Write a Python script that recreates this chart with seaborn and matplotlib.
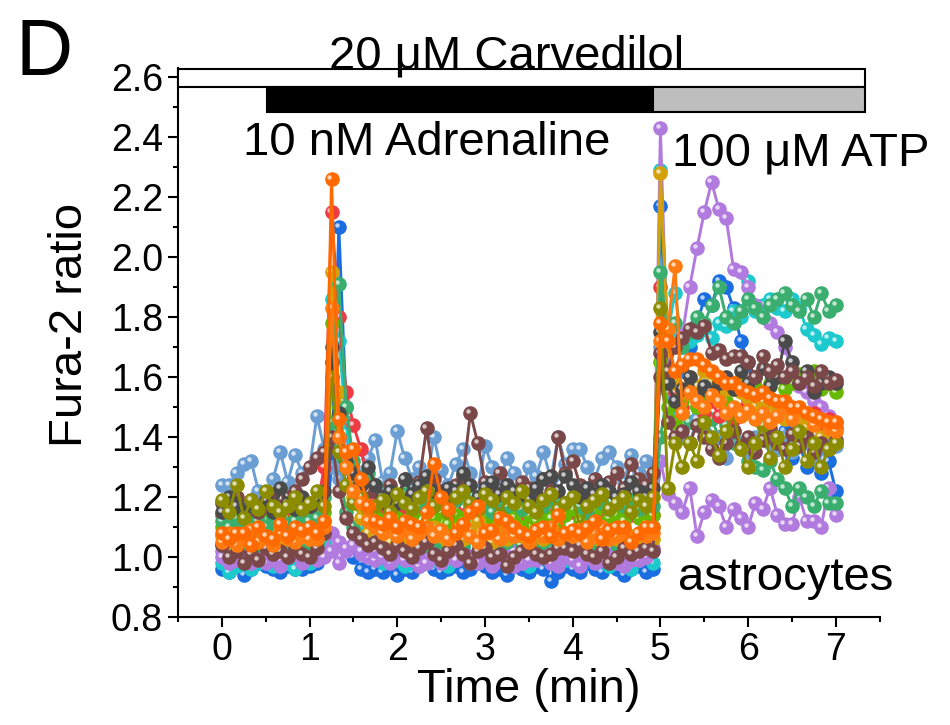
import numpy as np
import pandas as pd
import seaborn as sns
import matplotlib.pyplot as plt
from matplotlib.patches import Rectangle
from matplotlib.ticker import MultipleLocator
from matplotlib.transforms import offset_copy

# one frame every 5 s, 0 - 7 min
time_min = np.arange(85) / 12

# Fura-2 ratio per cell (rows: baseline | adrenaline | wash | ATP)
light_blue = [1.24, 1.24, 1.28, 1.31, 1.32, 1.22, 1.20, 1.26, 1.35, 1.25, 1.34, 1.28, 1.30,
              1.47, 1.36, 1.30, 1.26, 1.24, 1.30, 1.27, 1.33,
              1.39, 1.25, 1.28, 1.42, 1.33, 1.26, 1.30, 1.25, 1.40, 1.29, 1.24, 1.31, 1.36,
              1.28, 1.22, 1.37, 1.30, 1.25, 1.33, 1.28, 1.22, 1.30, 1.27, 1.35, 1.26, 1.40,
              1.31, 1.36, 1.36, 1.30, 1.26, 1.33, 1.35, 1.30, 1.25, 1.34, 1.28, 1.32, 1.27,
              1.70, 1.55, 1.45, 1.40, 1.38, 1.46, 1.42, 1.36, 1.40, 1.33, 1.42, 1.38, 1.35,
              1.40, 1.44, 1.38, 1.36, 1.40, 1.35, 1.42, 1.38, 1.33, 1.36, 1.40, 1.37]
blue = [0.96, 0.95, 0.97, 0.94, 0.96, 0.98, 0.97, 0.96, 0.95, 0.97, 0.96, 0.96, 0.97,
        0.98, 1.05, 1.30, 2.10, 1.50, 1.00, 0.96, 0.95,
        0.96, 0.95, 0.97, 0.94, 0.96, 0.95, 0.97, 0.98, 0.96, 0.95, 0.96, 0.97, 0.95,
        0.96, 0.98, 0.97, 0.95, 0.96, 0.94, 0.97, 0.96, 0.95, 0.97, 0.96, 0.92, 0.95,
        0.97, 0.96, 0.95, 0.98, 0.96, 0.95, 0.97, 0.96, 0.94, 0.96, 0.97, 0.95, 0.96,
        2.17, 1.60, 1.55, 1.62, 1.70, 1.78, 1.86, 1.84, 1.92, 1.90, 1.83, 1.72, 1.65,
        1.52, 1.45, 1.40, 1.36, 1.42, 1.33, 1.38, 1.30, 1.35, 1.28, 1.32, 1.22]
orange_a = [1.08, 1.06, 1.08, 1.08, 1.04, 1.10, 1.07, 1.06, 1.11, 1.07, 1.10, 1.09, 1.10,
            1.08, 1.12, 2.26, 1.46, 1.35, 1.36, 1.26, 1.17,
            1.12, 1.11, 1.13, 1.10, 1.12, 1.11, 1.10, 1.15, 1.31, 1.20, 1.16, 1.08, 1.11,
            1.15, 1.17, 1.08, 1.09, 1.13, 1.12, 1.10, 1.08, 1.07, 1.09, 1.10, 1.07, 1.14,
            1.08, 1.09, 1.08, 1.10, 1.12, 1.06, 1.09, 1.10, 1.10, 1.05, 1.08, 1.10, 1.10,
            1.78, 1.72, 1.62, 1.64, 1.66, 1.66, 1.64, 1.62, 1.60, 1.58, 1.58, 1.56, 1.55,
            1.54, 1.55, 1.53, 1.52, 1.52, 1.50, 1.50, 1.48, 1.47, 1.46, 1.45, 1.45]
orange_b = [1.05, 1.08, 1.04, 1.06, 1.09, 1.05, 1.07, 1.04, 1.08, 1.06, 1.05, 1.07, 1.06,
            1.06, 1.10, 1.83, 1.40, 1.30, 1.22, 1.18, 1.12,
            1.10, 1.08, 1.11, 1.07, 1.09, 1.06, 1.08, 1.10, 1.07, 1.09, 1.06, 1.08, 1.11,
            1.07, 1.05, 1.09, 1.08, 1.06, 1.10, 1.07, 1.08, 1.05, 1.09, 1.07, 1.10, 1.06,
            1.08, 1.07, 1.09, 1.05, 1.08, 1.10, 1.06, 1.07, 1.09, 1.06, 1.08, 1.07, 1.08,
            1.72, 1.76, 1.97, 1.48, 1.55, 1.52, 1.50, 1.54, 1.52, 1.48, 1.50, 1.47, 1.49,
            1.46, 1.48, 1.45, 1.47, 1.50, 1.46, 1.49, 1.48, 1.44, 1.46, 1.43, 1.42]
red = [1.14, 1.17, 1.15, 1.13, 1.16, 1.12, 1.15, 1.17, 1.14, 1.13, 1.16, 1.15, 1.14,
       1.16, 1.30, 2.15, 1.80, 1.55, 1.44, 1.36, 1.26,
       1.18, 1.16, 1.22, 1.15, 1.17, 1.14, 1.18, 1.16, 1.13, 1.17, 1.15, 1.19, 1.14,
       1.16, 1.13, 1.17, 1.15, 1.18, 1.14, 1.16, 1.12, 1.15, 1.17, 1.14, 1.16, 1.13,
       1.18, 1.15, 1.14, 1.17, 1.13, 1.16, 1.15, 1.12, 1.16, 1.14, 1.17, 1.15, 1.14,
       1.90, 1.62, 1.55, 1.50, 1.56, 1.52, 1.48, 1.52, 1.47, 1.50, 1.46, 1.49, 1.52,
       1.47, 1.50, 1.46, 1.48, 1.51, 1.46, 1.49, 1.45, 1.48, 1.44, 1.46, 1.43]
olive = [1.19, 1.15, 1.24, 1.13, 1.19, 1.16, 1.22, 1.17, 1.15, 1.17, 1.20, 1.16, 1.18,
         1.22, 1.17, 1.60, 1.35, 1.24, 1.18, 1.20, 1.16,
         1.17, 1.19, 1.15, 1.21, 1.18, 1.16, 1.20, 1.22, 1.17, 1.19, 1.15, 1.20, 1.22,
         1.18, 1.16, 1.21, 1.19, 1.14, 1.20, 1.18, 1.22, 1.17, 1.15, 1.19, 1.21, 1.16,
         1.18, 1.20, 1.10, 1.17, 1.19, 1.21, 1.16, 1.18, 1.20, 1.15, 1.19, 1.17, 1.20,
         1.83, 1.23, 1.38, 1.30, 1.38, 1.32, 1.45, 1.40, 1.34, 1.42, 1.48, 1.36, 1.30,
         1.38, 1.44, 1.33, 1.40, 1.30, 1.36, 1.42, 1.32, 1.38, 1.30, 1.36, 1.38]
dark_gray = [1.15, 1.20, 1.17, 1.14, 1.18, 1.16, 1.19, 1.15, 1.23, 1.18, 1.16, 1.20, 1.17,
             1.19, 1.22, 1.70, 1.48, 1.32, 1.28, 1.24, 1.30,
             1.24, 1.20, 1.22, 1.18, 1.26, 1.21, 1.24, 1.27, 1.22, 1.19, 1.23, 1.22, 1.28,
             1.24, 1.20, 1.23, 1.25, 1.21, 1.24, 1.22, 1.21, 1.19, 1.23, 1.26, 1.27, 1.22,
             1.27, 1.24, 1.20, 1.23, 1.21, 1.24, 1.22, 1.20, 1.21, 1.25, 1.22, 1.20, 1.23,
             1.75, 1.58, 1.52, 1.56, 1.60, 1.54, 1.57, 1.55, 1.58, 1.60, 1.56, 1.62, 1.58,
             1.60, 1.63, 1.57, 1.60, 1.72, 1.65, 1.58, 1.62, 1.55, 1.58, 1.60, 1.58]
brown_a = [1.04, 1.00, 1.02, 0.98, 1.01, 0.99, 1.03, 1.01, 1.02, 1.00, 1.03, 1.01, 1.00,
           1.03, 1.08, 1.40, 1.22, 1.13, 1.08, 1.06, 1.04,
           1.05, 1.03, 1.01, 1.04, 1.02, 1.00, 1.03, 1.05, 1.01, 0.99, 1.02, 1.04, 1.01,
           0.98, 1.02, 1.03, 1.00, 1.01, 0.97, 1.00, 1.02, 1.03, 1.01, 1.00, 1.01, 1.03,
           1.03, 1.02, 1.04, 1.01, 1.00, 1.02, 0.98, 1.00, 1.03, 1.01, 1.02, 1.03, 1.02,
           1.68, 1.62, 1.70, 1.73, 1.76, 1.75, 1.77, 1.68, 1.69, 1.66, 1.67, 1.67, 1.65,
           1.60, 1.67, 1.62, 1.64, 1.60, 1.62, 1.58, 1.60, 1.57, 1.62, 1.58, 1.59]
brown_b = [1.18, 1.16, 1.20, 1.17, 1.19, 1.15, 1.18, 1.21, 1.17, 1.20, 1.22, 1.26, 1.30,
           1.33, 1.35, 1.65, 1.40, 1.30, 1.25, 1.20, 1.22,
           1.22, 1.18, 1.24, 1.20, 1.26, 1.21, 1.25, 1.43, 1.26, 1.22, 1.19, 1.24, 1.27,
           1.48, 1.38, 1.25, 1.22, 1.28, 1.24, 1.20, 1.25, 1.23, 1.21, 1.26, 1.22, 1.40,
           1.28, 1.32, 1.24, 1.22, 1.26, 1.21, 1.25, 1.28, 1.23, 1.31, 1.26, 1.24, 1.28,
           1.60, 1.45, 1.40, 1.42, 1.38, 1.44, 1.40, 1.36, 1.33, 1.38, 1.42, 1.37, 1.40,
           1.35, 1.39, 1.43, 1.38, 1.36, 1.41, 1.37, 1.40, 1.35, 1.38, 1.36, 1.39]
cyan = [0.98, 0.95, 0.97, 0.99, 0.96, 0.98, 1.00, 0.97, 0.97, 0.98, 0.96, 0.99, 0.98,
        1.00, 1.05, 1.86, 1.72, 1.45, 1.25, 1.10, 1.02,
        1.00, 0.98, 1.01, 0.99, 0.97, 1.00, 1.02, 0.98, 0.99, 1.01, 0.97, 1.00, 1.03,
        0.99, 0.98, 1.01, 1.03, 1.00, 0.98, 1.02, 0.99, 0.97, 1.00, 1.01, 0.98, 1.00,
        0.99, 1.02, 0.98, 1.00, 1.01, 0.99, 0.97, 1.00, 0.98, 0.96, 0.99, 1.01, 0.98,
        2.29, 1.75, 1.88, 1.70, 1.72, 1.74, 1.76, 1.73, 1.78, 1.77, 1.82, 1.80, 1.92,
        1.82, 1.84, 1.86, 1.83, 1.82, 1.86, 1.83, 1.76, 1.74, 1.71, 1.73, 1.72]
green_a = [1.12, 1.10, 1.13, 1.11, 1.14, 1.12, 1.10, 1.13, 1.15, 1.11, 1.12, 1.14, 1.12,
           1.13, 1.20, 1.60, 1.91, 1.50, 1.32, 1.26, 1.28,
           1.24, 1.20, 1.22, 1.18, 1.21, 1.19, 1.17, 1.20, 1.22, 1.18, 1.16, 1.19, 1.21,
           1.17, 1.20, 1.18, 1.15, 1.19, 1.17, 1.20, 1.16, 1.18, 1.21, 1.17, 1.19, 1.16,
           1.18, 1.20, 1.17, 1.15, 1.19, 1.18, 1.16, 1.20, 1.17, 1.19, 1.16, 1.18, 1.17,
           1.95, 1.72, 1.78, 1.70, 1.75, 1.80, 1.78, 1.84, 1.90, 1.80, 1.78, 1.82, 1.86,
           1.83, 1.80, 1.84, 1.86, 1.88, 1.84, 1.82, 1.86, 1.80, 1.88, 1.82, 1.84]
green_b = [1.04, 1.06, 1.03, 1.05, 1.07, 1.04, 1.06, 1.03, 1.05, 1.04, 1.06, 1.05, 1.04,
           1.05, 1.08, 1.45, 1.30, 1.15, 1.10, 1.07, 1.06,
           1.05, 1.07, 1.04, 1.06, 1.03, 1.05, 1.07, 1.04, 1.06, 1.05, 1.03, 1.06, 1.04,
           1.07, 1.05, 1.03, 1.06, 1.04, 1.05, 1.07, 1.04, 1.06, 1.03, 1.05, 1.06, 1.04,
           1.07, 1.05, 1.03, 1.06, 1.04, 1.05, 1.07, 1.04, 1.06, 1.05, 1.03, 1.05, 1.10,
           1.40, 1.55, 1.50, 1.48, 1.45, 1.50, 1.42, 1.46, 1.40, 1.44, 1.38, 1.36, 1.32,
           1.30, 1.29, 1.32, 1.26, 1.23, 1.17, 1.23, 1.20, 1.17, 1.22, 1.18, 1.18]
purple_a = [1.00, 0.98, 1.01, 0.99, 1.02, 1.00, 0.98, 1.01, 0.99, 1.00, 1.02, 0.99, 1.01,
            1.01, 1.00, 1.02, 0.98, 1.03, 1.04, 1.02, 1.03,
            1.02, 1.00, 1.03, 1.01, 0.99, 1.02, 1.00, 0.98, 1.01, 1.03, 1.00, 0.99, 1.02,
            1.00, 0.98, 1.01, 0.99, 1.02, 1.00, 0.97, 1.01, 0.99, 1.00, 1.02, 0.98, 1.00,
            1.01, 0.99, 0.97, 1.00, 1.02, 0.99, 1.01, 0.98, 1.00, 1.01, 0.99, 1.00, 1.02,
            2.43, 1.62, 1.58, 1.74, 1.90, 2.03, 2.15, 2.25, 2.16, 2.13, 1.96, 1.95, 1.90,
            1.84, 1.80, 1.78, 1.75, 1.70, 1.62, 1.57, 1.55, 1.52, 1.50, 1.47, 1.45]
purple_b = [1.02, 1.00, 0.99, 1.01, 0.98, 1.00, 1.02, 0.99, 0.97, 1.00, 1.01, 0.98, 1.00,
            0.99, 1.01, 1.08, 1.05, 1.02, 1.04, 1.01, 1.00,
            0.99, 1.01, 0.98, 1.00, 1.02, 0.99, 0.97, 1.00, 1.01, 0.98, 1.00, 0.99, 1.02,
            0.98, 1.00, 1.01, 0.97, 0.99, 1.00, 1.02, 0.98, 1.00, 0.99, 1.01, 0.98, 0.97,
            1.00, 1.02, 0.99, 1.00, 0.98, 1.01, 0.99, 1.00, 0.97, 0.99, 1.01, 1.00, 1.03,
            1.32, 1.21, 1.18, 1.15, 1.23, 1.07, 1.15, 1.19, 1.17, 1.10, 1.16, 1.13, 1.10,
            1.18, 1.16, 1.23, 1.14, 1.11, 1.11, 1.20, 1.12, 1.12, 1.10, 1.23, 1.14]
yellow_green = [1.10, 1.12, 1.09, 1.11, 1.13, 1.10, 1.12, 1.14, 1.11, 1.10, 1.13, 1.12, 1.11,
                1.12, 1.15, 1.78, 1.50, 1.30, 1.22, 1.17, 1.15,
                1.14, 1.12, 1.15, 1.13, 1.11, 1.14, 1.16, 1.12, 1.13, 1.15, 1.11, 1.14, 1.12,
                1.16, 1.13, 1.11, 1.14, 1.12, 1.15, 1.13, 1.10, 1.14, 1.12, 1.15, 1.13, 1.11,
                1.14, 1.16, 1.12, 1.13, 1.15, 1.11, 1.13, 1.14, 1.12, 1.15, 1.13, 1.11, 1.14,
                1.65, 1.50, 1.45, 1.52, 1.55, 1.50, 1.54, 1.58, 1.55, 1.52, 1.56, 1.58, 1.54,
                1.57, 1.55, 1.58, 1.60, 1.56, 1.58, 1.61, 1.60, 1.62, 1.56, 1.58, 1.55]
gold = [1.07, 1.05, 1.08, 1.06, 1.09, 1.05, 1.07, 1.10, 1.06, 1.08, 1.05, 1.07, 1.06,
        1.08, 1.12, 1.95, 1.55, 1.30, 1.20, 1.13, 1.08,
        1.06, 1.08, 1.05, 1.09, 1.07, 1.04, 1.08, 1.06, 1.10, 1.07, 1.05, 1.08, 1.06,
        1.09, 1.12, 1.07, 1.05, 1.08, 1.06, 1.10, 1.07, 1.04, 1.08, 1.06, 1.09, 1.07,
        1.05, 1.08, 1.06, 1.10, 1.07, 1.05, 1.08, 1.06, 1.09, 1.07, 1.05, 1.08, 1.06,
        2.28, 1.70, 1.58, 1.55, 1.60, 1.57, 1.62, 1.58, 1.60, 1.56, 1.58, 1.55, 1.53,
        1.50, 1.52, 1.48, 1.50, 1.46, 1.48, 1.45, 1.43, 1.45, 1.40, 1.42, 1.38]

# drawing order, back to front
cells = ["blue", "cyan", "purple_b", "purple_a", "green_b", "light_blue", "red",
         "yellow_green", "gold", "green_a", "brown_b", "dark_gray", "brown_a",
         "olive", "orange_b", "orange_a"]
values = [blue, cyan, purple_b, purple_a, green_b, light_blue, red,
          yellow_green, gold, green_a, brown_b, dark_gray, brown_a,
          olive, orange_b, orange_a]
colors = ["#1A6EE0", "#1CC9CC", "#B07ADE", "#B07ADE", "#3AAE6E", "#6B9FD3", "#EE3A44",
          "#66B800", "#D4A10A", "#3AAE6E", "#7A4848", "#4A4A4A", "#7A4848",
          "#8C8C00", "#FF7A10", "#FF6A00"]

frames = []
for name, vals in zip(cells, values):
    assert len(vals) == len(time_min), name
    frames.append(pd.DataFrame({"cell": name, "time": time_min, "ratio": vals}))
df = pd.concat(frames, ignore_index=True)

sns.set_style("ticks")
plt.rcParams['font.family'] = ['Liberation Sans', 'DejaVu Sans']
for key in ["text.color", "axes.labelcolor", "xtick.color", "ytick.color", "axes.edgecolor"]:
    plt.rcParams[key] = "black"

fig = plt.figure(figsize=(9.5, 7.25), dpi=100)
ax = fig.add_axes([0.1874, 0.149, 0.7386, 0.757])

# small white spot up-left of each marker, so the dots look like beads
shine = offset_copy(ax.transData, fig=fig, x=-2.2, y=2.4, units='dots')

for name, col in zip(cells, colors):
    sub = df[df["cell"] == name]
    sns.lineplot(data=sub, x="time", y="ratio", color=col, marker="o",
                 markeredgewidth=0, linewidth=2.1, estimator=None, sort=False,
                 legend=False, ax=ax)
    ax.lines[-1].set_markersize(10.5)
    ax.plot(sub["time"], sub["ratio"], "o", ms=3.2, mew=0, color="white", alpha=0.7,
            transform=shine)

ax.set_xlim(-0.5, 7.5)
ax.set_ylim(0.8, 2.63)
ax.xaxis.set_major_locator(MultipleLocator(1))
ax.xaxis.set_minor_locator(MultipleLocator(0.5))
ax.yaxis.set_major_locator(MultipleLocator(0.2))
ax.yaxis.set_minor_locator(MultipleLocator(0.1))
ax.tick_params(which="major", direction="out", length=7, width=1.5, labelsize=27, pad=4)
ax.tick_params(which="minor", direction="out", length=3.6, width=1.5)
sns.despine(ax=ax)
for side in ["left", "bottom"]:
    ax.spines[side].set_linewidth(1.5)

ax.set_xlabel("Time (min)", fontsize=34, labelpad=0)
ax.set_ylabel("Fura-2 ratio", fontsize=34)
ax.yaxis.set_label_coords(-0.122, 0.532)

# treatment bars
ax.add_patch(Rectangle((-0.5, 2.567), 7.83, 0.06, facecolor="white", edgecolor="black",
                       linewidth=1.5, clip_on=False, zorder=5))
ax.add_patch(Rectangle((0.52, 2.483), 4.39, 0.084, facecolor="black", edgecolor="black",
                       linewidth=1.5, clip_on=False, zorder=5))
ax.add_patch(Rectangle((4.91, 2.483), 2.42, 0.084, facecolor="#BEBEBE", edgecolor="black",
                       linewidth=1.5, clip_on=False, zorder=5))

ax.text(3.25, 2.63, "20 μM Carvedilol", fontsize=34, ha="center", va="baseline",
        clip_on=False, zorder=6)
ax.text(2.33, 2.34, "10 nM Adrenaline", fontsize=34, ha="center", va="baseline")
ax.text(5.13, 2.305, "100 μM ATP", fontsize=34, ha="left", va="baseline")
ax.text(6.43, 0.89, "astrocytes", fontsize=34, ha="center", va="baseline")

fig.text(0.016, 0.897, "D", fontsize=57, ha="left", va="baseline")

fig.savefig("out.png", dpi=100)
